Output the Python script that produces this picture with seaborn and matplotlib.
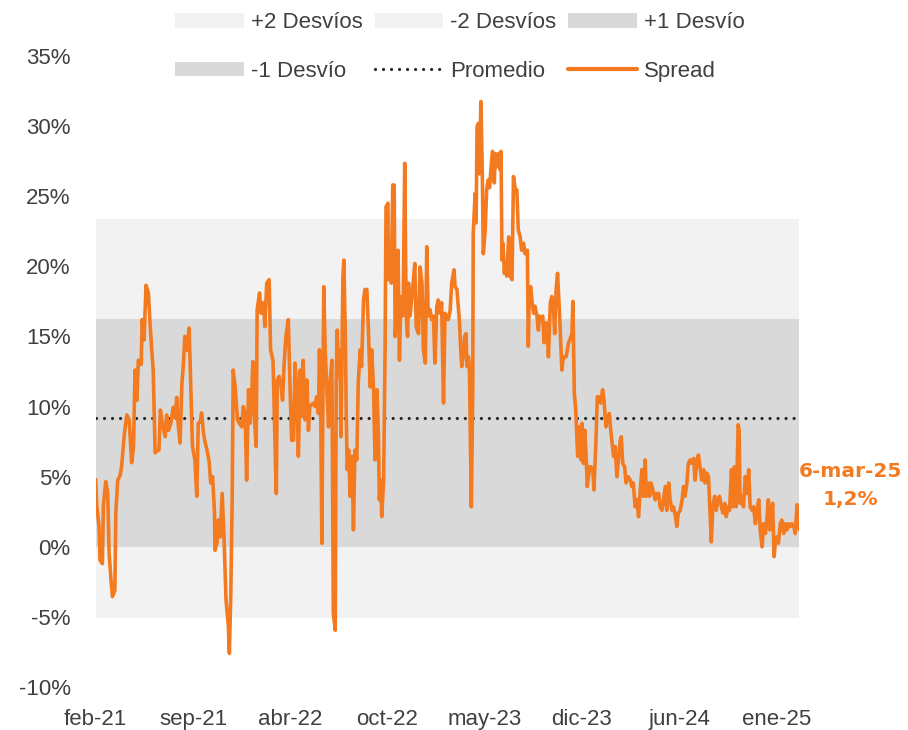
import matplotlib
matplotlib.use('Agg')
import matplotlib.pyplot as plt
import seaborn as sns
import pandas as pd
from matplotlib.patches import Patch
from matplotlib.lines import Line2D

# serie del spread (en %), días contados desde la primera observación
fecha_inicio = '2021-02-26'
dias = [
    0, 2, 7, 9, 14, 16, 21, 25, 28, 32, 35, 40, 42, 46, 51, 54, 60, 65, 70, 75,
    79, 82, 86, 89, 95, 97, 101, 105, 110, 113, 117, 120, 124, 127, 132, 135, 139, 145, 148, 152,
    157, 162, 166, 169, 172, 176, 180, 183, 186, 190, 195, 199, 202, 207, 211, 214, 218, 221, 225, 228,
    233, 237, 240, 244, 248, 249, 253, 256, 260, 264, 268, 272, 277, 279, 282, 285, 287, 291, 296, 300,
    305, 308, 312, 315, 319, 322, 326, 328, 331, 335, 337, 342, 345, 350, 353, 357, 362, 365, 370, 372,
    375, 377, 379, 383, 387, 390, 393, 397, 402, 406, 409, 413, 416, 420, 423, 427, 430, 433, 437, 441,
    444, 447, 454, 458, 461, 465, 467, 470, 472, 476, 479, 482, 486, 489, 493, 496, 500, 502, 504, 507,
    510, 512, 516, 518, 521, 523, 525, 528, 531, 535, 538, 541, 545, 548, 552, 555, 559, 562, 566, 569,
    573, 576, 580, 583, 587, 590, 592, 595, 597, 601, 604, 606, 610, 611, 615, 617, 620, 623, 625, 628,
    631, 634, 637, 640, 642, 645, 648, 651, 653, 656, 662, 666, 669, 671, 674, 677, 681, 684, 688, 691,
    694, 698, 701, 705, 708, 712, 715, 719, 722, 726, 729, 733, 736, 740, 743, 748, 750, 754, 759, 762,
    764, 768, 770, 773, 775, 778, 780, 784, 787, 788, 792, 794, 796, 799, 801, 804, 807, 809, 813, 816,
    819, 822, 825, 828, 832, 834, 837, 841, 844, 846, 848, 850, 853, 855, 858, 862, 865, 869, 872, 876,
    879, 882, 886, 889, 893, 896, 901, 903, 905, 908, 911, 914, 917, 921, 924, 926, 929, 933, 936, 939,
    942, 945, 949, 952, 955, 958, 961, 964, 967, 969, 973, 976, 982, 987, 990, 994, 996, 999, 1002, 1006,
    1009, 1013, 1015, 1018, 1021, 1024, 1026, 1031, 1034, 1038, 1040, 1044, 1047, 1051, 1054, 1058, 1061, 1065, 1068, 1072,
    1075, 1078, 1081, 1084, 1088, 1091, 1095, 1097, 1100, 1104, 1107, 1111, 1116, 1119, 1122, 1126, 1130, 1133, 1136, 1140,
    1143, 1147, 1149, 1153, 1156, 1159, 1163, 1168, 1171, 1175, 1178, 1182, 1185, 1189, 1192, 1196, 1199, 1203, 1206, 1210,
    1213, 1216, 1220, 1224, 1227, 1230, 1234, 1237, 1241, 1244, 1248, 1251, 1255, 1258, 1262, 1265, 1269, 1272, 1276, 1279,
    1283, 1285, 1288, 1292, 1295, 1299, 1302, 1306, 1309, 1313, 1316, 1320, 1323, 1327, 1330, 1333, 1337, 1341, 1343, 1345,
    1349, 1352, 1356, 1359, 1363, 1366, 1370, 1373, 1377, 1380, 1384, 1387, 1391, 1394, 1398, 1401, 1404, 1407, 1409, 1413,
    1416, 1419, 1422, 1425, 1429, 1432, 1436, 1439, 1443, 1446, 1450, 1453, 1457, 1460, 1464, 1466, 1469,
]
spread = [
    4.8, 3.0, 1.45, -0.95, -1.2, 2.9, 4.65, 3.9, -0.45, -2.4, -3.55, -3.1, 2.4, 4.75, 5.1, 5.7, 8.1, 9.4, 9.0, 6.0,
    7.15, 12.6, 10.45, 13.3, 13.0, 16.2, 14.75, 18.65, 18.1, 16.2, 14.0, 12.6, 6.7, 6.8, 6.9, 9.75, 8.8, 7.85, 9.4, 8.3,
    8.85, 9.95, 9.2, 10.65, 8.8, 7.4, 11.7, 13.0, 15.0, 14.0, 15.6, 10.65, 7.15, 6.2, 3.6, 8.8, 8.9, 9.55, 8.1, 7.5,
    6.8, 6.0, 4.55, 5.0, 2.4, -0.25, 0.25, 1.9, 0.7, 3.8, 0.5, -3.8, -5.7, -7.6, -3.3, 3.8, 12.6, 11.4, 9.05, 8.8,
    8.55, 10.0, 9.5, 4.75, 11.2, 8.8, 11.2, 13.2, 9.3, 7.15, 16.9, 18.1, 16.65, 17.4, 15.7, 18.8, 19.05, 14.05, 13.3, 10.7,
    6.2, 3.8, 11.9, 12.15, 11.45, 10.45, 12.85, 15.0, 16.2, 10.95, 7.6, 7.6, 13.1, 10.95, 6.45, 12.6, 9.3, 13.3, 9.05, 11.9,
    8.3, 10.0, 10.25, 10.0, 10.7, 9.5, 14.05, 8.55, 0.25, 18.55, 14.0, 11.65, 8.55, 11.65, 13.3, -4.75, -5.95, 11.65, 15.45, 12.15,
    14.05, 7.85, 19.3, 20.45, 15.0, 9.3, 5.5, 6.9, 3.6, 6.45, 1.2, 6.9, 6.2, 11.65, 14.05, 12.85, 17.6, 18.35, 18.35, 15.7,
    11.4, 14.05, 11.2, 6.2, 11.2, 8.1, 3.35, 4.75, 2.15, 4.75, 14.05, 24.25, 24.5, 19.05, 21.4, 18.8, 25.8, 25.8, 15.0, 16.45,
    21.15, 13.3, 17.85, 16.45, 17.85, 27.35, 16.45, 15.0, 18.8, 16.45, 18.55, 20.2, 15.7, 15.45, 15.2, 19.95, 18.8, 14.05, 13.1, 21.4,
    16.45, 16.9, 16.2, 16.45, 13.1, 17.15, 17.6, 16.65, 17.4, 10.25, 16.65, 16.45, 16.2, 16.9, 18.8, 19.75, 18.55, 18.35, 16.2, 14.05,
    12.85, 13.8, 15.0, 15.2, 12.85, 13.55, 12.85, 2.85, 11.2, 22.35, 25.2, 23.1, 29.95, 30.2, 26.6, 31.75, 26.6, 20.9, 22.6, 25.45,
    26.15, 25.6, 26.9, 28.2, 25.95, 28.05, 27.1, 28.05, 26.9, 28.2, 20.45, 21.65, 19.5, 20.2, 19.3, 22.1, 19.3, 19.05, 26.4, 25.45,
    25.45, 22.6, 22.1, 21.15, 21.65, 20.9, 21.15, 14.3, 18.35, 18.55, 17.4, 16.65, 17.15, 16.45, 15.45, 16.45, 16.2, 16.45, 14.55, 15.95,
    15.95, 13.55, 17.4, 17.85, 17.4, 15.2, 18.35, 19.5, 17.4, 15.95, 12.6, 13.55, 13.55, 14.55, 14.8, 15.2, 17.5, 10.95, 9.75, 6.45,
    8.55, 6.2, 8.8, 5.95, 8.3, 6.2, 4.3, 5.7, 5.7, 5.25, 4.05, 7.4, 10.7, 10.7, 10.25, 11.2, 10.45, 8.55, 9.05, 9.5,
    8.3, 7.4, 6.45, 7.15, 5.0, 6.2, 7.6, 7.85, 5.95, 5.7, 4.55, 5.0, 4.75, 4.3, 4.55, 2.85, 3.35, 2.15, 3.8, 5.5,
    3.6, 6.2, 3.6, 4.55, 3.6, 4.55, 4.05, 3.35, 3.8, 3.8, 2.85, 2.6, 3.35, 4.3, 2.6, 4.55, 3.35, 2.6, 2.85, 2.15,
    1.45, 2.4, 2.6, 3.35, 4.3, 3.6, 4.55, 5.95, 6.2, 5.95, 6.3, 4.75, 6.2, 6.55, 5.5, 4.75, 5.5, 4.55, 5.25, 5.0,
    1.9, 0.35, 2.85, 3.6, 2.6, 3.35, 3.6, 2.85, 2.4, 3.1, 2.15, 2.85, 2.6, 5.5, 2.85, 5.7, 2.85, 8.7, 8.3, 3.1,
    3.6, 2.85, 5.0, 3.8, 5.5, 2.85, 2.6, 2.85, 1.65, 2.6, 3.35, 1.2, 0.0, 1.65, 0.95, 1.9, 3.35, 1.2, 1.65, 3.1,
    -0.7, 0.5, 0.7, 0.25, 1.65, 1.9, 0.95, 1.65, 1.2, 1.65, 1.45, 1.65, 1.45, 0.95, 3.0, 1.9, 1.2,
]
assert len(dias) == len(spread)

promedio = 9.15
bandas = ['+2 Desvíos', '-2 Desvíos', '+1 Desvío', '-1 Desvío']
banda_inf = [16.25, -5.05, 9.15, 0.0]
banda_sup = [23.35, 0.0, 16.25, 9.15]
banda_color = ['#F2F2F2', '#F2F2F2', '#D9D9D9', '#D9D9D9']

meses = ['ene', 'feb', 'mar', 'abr', 'may', 'jun', 'jul', 'ago', 'sep', 'oct', 'nov', 'dic']
y_ticks = list(range(-10, 36, 5))

naranja = '#F47A20'
gris_texto = '#404040'

sns.set_theme(style='white')
plt.rcParams['font.family'] = ['Liberation Sans', 'DejaVu Sans']

df = pd.DataFrame({
    'fecha': pd.to_datetime(fecha_inicio) + pd.to_timedelta(dias, unit='D'),
    'spread': spread,
})

fig = plt.figure(figsize=(9.08, 7.3), dpi=100)
ax = fig.add_axes([0.1054, 0.0589, 0.7751, 0.8644])

for nombre, lo, hi, c in zip(bandas, banda_inf, banda_sup, banda_color):
    ax.axhspan(lo, hi, color=c, lw=0, zorder=0)

ax.axhline(promedio, color='#262626', lw=2.3, linestyle=(0, (0.01, 2.5)),
           dash_capstyle='round', zorder=2)
sns.lineplot(data=df, x='fecha', y='spread', color=naranja, lw=2.6,
             estimator=None, ax=ax, zorder=3)

ax.set_xlim(df['fecha'].iloc[0], df['fecha'].iloc[-1])
ax.set_ylim(-10, 35)
ax.set_xlabel('')
ax.set_ylabel('')

# ejes estilo excel
ticks_x = pd.date_range(df['fecha'].iloc[0], periods=8, freq='203D')
ax.set_xticks(ticks_x)
ax.set_xticklabels(['{}-{}'.format(meses[t.month - 1], t.strftime('%y')) for t in ticks_x])
ax.set_yticks(y_ticks)
ax.set_yticklabels(['{}%'.format(v) for v in y_ticks])
ax.tick_params(axis='both', length=0, labelsize=16, labelcolor=gris_texto)
ax.tick_params(axis='y', pad=18)
ax.tick_params(axis='x', pad=16)
sns.despine(ax=ax, left=True, bottom=True)

# leyenda en dos filas
h = [Patch(color=c, lw=0) for c in banda_color]
h_prom = Line2D([], [], color='#262626', lw=2.3, linestyle=(0, (0.01, 2.5)), dash_capstyle='round')
h_spread = Line2D([], [], color=naranja, lw=3)
handles = [h[0], h[3], h[1], h_prom, h[2], h_spread]
labels = [bandas[0], bandas[3], bandas[1], 'Promedio', bandas[2], 'Spread']
fig.legend(handles, labels, loc='upper left', bbox_to_anchor=(175 / 908, 1 - 12 / 730),
           ncol=3, frameon=False, fontsize=16, labelcolor=gris_texto,
           handlelength=3.1, handleheight=0.65, handletextpad=0.3,
           columnspacing=0.55, labelspacing=1.25, borderpad=0, borderaxespad=0)

# etiqueta del último dato
ult = df.iloc[-1]
txt = '{}-{}-{}\n{:.1f}%'.format(ult['fecha'].day, meses[ult['fecha'].month - 1],
                                 ult['fecha'].strftime('%y'), ult['spread']).replace('.', ',')
ax.annotate(txt, xy=(ult['fecha'], ult['spread']), xytext=(37, 32), textcoords='offset points',
            ha='center', va='center', color=naranja, fontsize=14.5, fontweight='bold',
            family='DejaVu Sans', linespacing=1.65, annotation_clip=False)

plt.savefig('out.png', dpi=100)
